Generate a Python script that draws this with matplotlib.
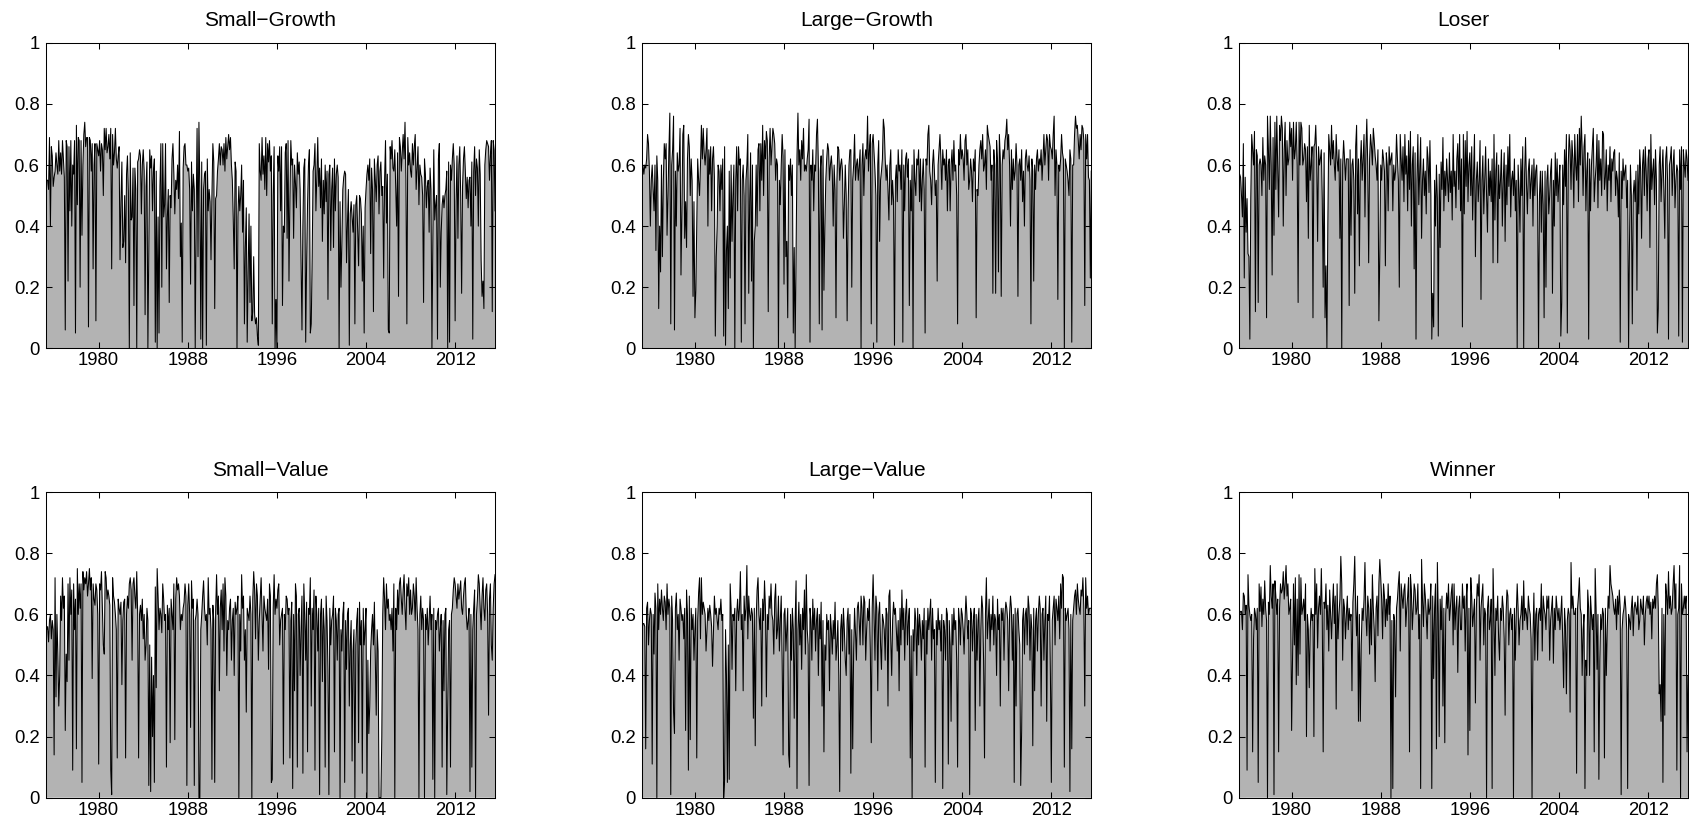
import numpy as np
import pandas as pd
import matplotlib
matplotlib.use('Agg')
import matplotlib.pyplot as plt

# panel titles, in drawing order (row by row)
titles = ['Small\u2212Growth', 'Large\u2212Growth', 'Loser',
          'Small\u2212Value', 'Large\u2212Value', 'Winner']
start_month = '1975-04'          # first monthly observation
year_ticks = [1980, 1988, 1996, 2004, 2012]
y_ticks = [0, 0.2, 0.4, 0.6, 0.8, 1]
y_tick_labels = ['0', '0.2', '0.4', '0.6', '0.8', '1']

# monthly values in percent (Apr 1975 .. Aug 2015), one line per year
small_growth = [
    57, 55, 55, 52, 69, 40, 66, 63, 53,
    56, 58, 64, 60, 57, 68, 58, 64, 57, 68, 62, 56,
    6, 68, 66, 22, 66, 45, 68, 40, 60, 57, 68, 5,
    73, 47, 69, 68, 20, 68, 37, 60, 70, 74, 66, 69,
    69, 7, 69, 68, 58, 67, 26, 60, 67, 9, 67, 65,
    63, 68, 58, 67, 65, 50, 72, 65, 72, 64, 66, 70,
    62, 72, 26, 70, 60, 64, 72, 62, 59, 63, 66, 29,
    48, 61, 33, 35, 50, 28, 57, 63, 51, 0, 64, 42,
    43, 59, 14, 59, 52, 0, 61, 62, 65, 63, 44, 60,
    65, 58, 11, 53, 61, 0, 31, 65, 59, 63, 45, 58,
    62, 2, 58, 0, 43, 5, 53, 67, 20, 67, 43, 47,
    67, 26, 43, 52, 15, 50, 46, 62, 67, 57, 44, 55,
    52, 60, 49, 71, 30, 41, 2, 59, 66, 67, 60, 60,
    58, 59, 52, 21, 61, 45, 57, 52, 0, 44, 72, 30,
    74, 52, 3, 61, 0, 52, 57, 58, 1, 62, 45, 52,
    48, 29, 50, 67, 61, 13, 49, 50, 58, 62, 67, 60,
    66, 65, 60, 67, 58, 69, 62, 66, 70, 65, 69, 60,
    55, 42, 26, 61, 58, 0, 43, 53, 45, 50, 60, 38,
    55, 8, 33, 46, 2, 25, 44, 15, 40, 9, 12, 30,
    11, 8, 10, 4, 1, 67, 58, 55, 69, 57, 63, 52,
    69, 50, 67, 61, 68, 58, 63, 8, 50, 66, 0, 16,
    0, 63, 58, 66, 45, 66, 14, 40, 38, 64, 67, 36,
    68, 22, 49, 68, 60, 62, 36, 60, 54, 46, 64, 57,
    61, 52, 29, 6, 40, 59, 62, 2, 28, 47, 60, 65,
    5, 8, 30, 58, 60, 67, 45, 56, 69, 53, 59, 46,
    62, 35, 55, 44, 60, 48, 58, 16, 57, 60, 32, 52,
    59, 33, 62, 45, 57, 60, 56, 0, 48, 20, 35, 52,
    56, 58, 57, 28, 41, 52, 1, 44, 48, 43, 38, 47,
    8, 47, 50, 38, 27, 50, 49, 44, 22, 40, 5, 46,
    52, 57, 60, 55, 62, 31, 59, 52, 12, 62, 55, 48,
    60, 63, 44, 58, 61, 50, 53, 23, 55, 68, 41, 57,
    6, 5, 66, 62, 68, 59, 58, 65, 52, 40, 64, 17,
    69, 66, 58, 64, 70, 62, 74, 55, 8, 69, 60, 64,
    58, 56, 67, 60, 66, 70, 52, 59, 66, 47, 60, 57,
    56, 50, 15, 62, 57, 46, 53, 55, 38, 59, 52, 0,
    36, 65, 42, 47, 50, 3, 62, 67, 20, 38, 47, 50,
    46, 50, 52, 58, 0, 61, 2, 60, 55, 62, 67, 60,
    9, 48, 63, 36, 60, 66, 50, 18, 53, 62, 66, 58,
    49, 56, 46, 55, 56, 40, 61, 3, 58, 66, 50, 62,
    59, 40, 65, 57, 29, 17, 22, 13, 60, 65, 68, 67,
    66, 55, 63, 68, 12, 68, 65, 45,
]

large_growth = [
    58, 60, 57, 60, 59, 62, 70, 67, 58,
    40, 55, 60, 52, 45, 60, 32, 63, 55, 13, 40, 25,
    60, 30, 55, 67, 62, 67, 37, 50, 65, 77, 8, 60,
    65, 76, 6, 58, 40, 64, 58, 60, 72, 24, 45, 70,
    73, 36, 48, 33, 62, 70, 66, 50, 62, 55, 17, 48,
    10, 19, 40, 62, 55, 50, 60, 73, 62, 72, 64, 60,
    65, 72, 40, 65, 57, 66, 45, 62, 66, 56, 4, 30,
    40, 60, 58, 45, 60, 52, 62, 4, 66, 1, 32, 40,
    13, 58, 23, 60, 35, 50, 60, 0, 55, 66, 45, 66,
    60, 62, 2, 55, 60, 50, 8, 55, 60, 70, 18, 48,
    64, 22, 60, 0, 35, 40, 60, 40, 65, 67, 45, 67,
    55, 73, 50, 68, 62, 71, 68, 12, 62, 72, 60, 66,
    72, 70, 67, 55, 62, 60, 0, 55, 47, 60, 70, 63,
    21, 65, 30, 35, 10, 60, 55, 62, 50, 60, 5, 33,
    0, 30, 63, 77, 60, 65, 55, 68, 62, 72, 58, 60,
    58, 62, 65, 75, 2, 60, 55, 65, 45, 60, 58, 70,
    75, 60, 8, 58, 63, 6, 65, 19, 40, 55, 62, 67,
    65, 55, 60, 63, 58, 40, 60, 52, 10, 55, 66, 65,
    55, 60, 62, 58, 36, 47, 60, 50, 9, 45, 60, 65,
    65, 20, 55, 60, 70, 55, 60, 62, 55, 60, 65, 0,
    60, 67, 50, 62, 65, 62, 76, 58, 65, 70, 8, 67,
    70, 64, 58, 50, 2, 60, 68, 35, 55, 58, 62, 75,
    72, 62, 55, 60, 52, 42, 60, 65, 47, 55, 48, 1,
    55, 60, 48, 65, 58, 60, 52, 65, 2, 60, 45, 62,
    64, 56, 62, 14, 55, 45, 60, 0, 65, 55, 50, 62,
    60, 65, 48, 62, 45, 55, 62, 52, 5, 62, 60, 70,
    73, 58, 55, 47, 60, 65, 58, 50, 55, 22, 60, 65,
    70, 62, 52, 65, 60, 62, 55, 65, 45, 60, 62, 45,
    60, 65, 55, 68, 58, 60, 50, 8, 65, 60, 70, 62,
    65, 62, 55, 68, 70, 60, 65, 52, 55, 62, 58, 48,
    62, 58, 65, 10, 52, 50, 60, 65, 68, 62, 70, 58,
    60, 65, 52, 73, 70, 68, 66, 55, 60, 18, 65, 60,
    18, 68, 62, 25, 70, 62, 17, 60, 65, 62, 68, 70,
    75, 65, 70, 60, 40, 65, 52, 62, 55, 58, 67, 60,
    17, 60, 62, 55, 65, 48, 58, 40, 62, 65, 60, 58,
    63, 55, 8, 62, 58, 22, 60, 52, 62, 65, 58, 62,
    60, 65, 55, 62, 70, 60, 65, 70, 68, 55, 70, 66,
    65, 62, 70, 76, 50, 65, 60, 16, 60, 58, 62, 70,
    64, 62, 0, 62, 60, 58, 55, 50, 65, 62, 2, 60,
    60, 70, 76, 72, 73, 68, 62, 70, 65, 73, 72, 68,
    14, 70, 62, 70, 56, 55, 23, 58,
]

loser = [
    57, 57, 56, 50, 43, 67, 23, 56, 38,
    49, 31, 30, 3, 49, 70, 65, 60, 71, 12, 65, 63,
    15, 60, 62, 60, 50, 69, 55, 63, 60, 10, 76, 65,
    52, 76, 60, 24, 69, 37, 74, 52, 76, 60, 43, 73,
    68, 76, 72, 40, 65, 74, 50, 68, 60, 62, 74, 66,
    72, 55, 74, 62, 65, 74, 60, 15, 74, 60, 74, 72,
    60, 62, 67, 65, 48, 66, 36, 73, 55, 60, 66, 10,
    66, 67, 73, 62, 35, 66, 60, 62, 65, 49, 20, 64,
    10, 27, 0, 40, 70, 65, 60, 73, 62, 68, 60, 55,
    70, 62, 58, 65, 36, 62, 0, 60, 68, 62, 55, 62,
    62, 62, 14, 65, 37, 60, 62, 55, 18, 66, 73, 44,
    62, 27, 60, 68, 55, 62, 70, 43, 65, 75, 60, 28,
    62, 70, 66, 60, 72, 68, 63, 60, 55, 65, 9, 31,
    60, 55, 65, 62, 58, 27, 64, 60, 45, 66, 60, 62,
    64, 45, 60, 55, 58, 70, 62, 55, 20, 70, 62, 55,
    66, 48, 70, 57, 63, 45, 68, 52, 71, 40, 60, 66,
    26, 64, 3, 55, 70, 47, 58, 69, 36, 55, 62, 50,
    58, 44, 66, 62, 51, 68, 50, 3, 18, 7, 55, 40,
    60, 49, 4, 57, 33, 61, 52, 69, 45, 58, 50, 62,
    55, 48, 64, 51, 58, 42, 70, 53, 58, 46, 62, 67,
    52, 70, 45, 62, 7, 70, 44, 68, 53, 71, 48, 60,
    64, 50, 66, 42, 57, 70, 30, 55, 61, 48, 55, 68,
    16, 55, 63, 44, 55, 66, 50, 38, 62, 50, 58, 48,
    62, 28, 70, 42, 58, 64, 28, 60, 49, 55, 65, 40,
    55, 64, 35, 60, 47, 66, 53, 70, 43, 55, 58, 50,
    62, 45, 55, 0, 60, 52, 38, 62, 50, 66, 0, 57,
    69, 54, 44, 58, 62, 49, 55, 60, 40, 62, 50, 58,
    60, 48, 0, 50, 58, 38, 58, 47, 10, 58, 20, 55,
    60, 44, 50, 58, 62, 18, 55, 40, 64, 50, 62, 48,
    55, 60, 4, 15, 60, 47, 65, 53, 70, 5, 60, 70,
    65, 52, 68, 62, 46, 70, 60, 55, 70, 48, 72, 60,
    76, 65, 50, 66, 70, 45, 58, 64, 3, 62, 45, 60,
    66, 72, 48, 55, 60, 70, 46, 68, 55, 62, 50, 71,
    70, 52, 56, 65, 45, 60, 55, 66, 48, 62, 58, 64,
    65, 50, 58, 55, 43, 64, 2, 58, 49, 62, 55, 58,
    60, 46, 55, 0, 35, 60, 50, 8, 50, 55, 48, 58,
    19, 60, 44, 65, 58, 36, 60, 65, 50, 66, 58, 45,
    62, 65, 33, 70, 52, 58, 62, 47, 65, 55, 5, 13,
    60, 66, 48, 58, 65, 52, 36, 62, 66, 55, 3, 60,
    62, 66, 50, 60, 65, 46, 55, 60, 58, 4, 65, 52,
    66, 2, 65, 60, 56, 65, 62, 55,
]

small_value = [
    57, 55, 56, 51, 58, 60, 52, 58, 55,
    14, 72, 33, 60, 47, 30, 40, 66, 58, 72, 62, 66,
    22, 47, 38, 70, 45, 72, 60, 68, 9, 70, 55, 65,
    16, 75, 60, 70, 62, 70, 5, 74, 68, 72, 70, 74,
    66, 70, 75, 68, 72, 39, 70, 65, 63, 70, 68, 60,
    11, 70, 68, 74, 62, 50, 47, 74, 72, 65, 68, 66,
    63, 9, 1, 72, 66, 64, 60, 55, 13, 65, 62, 60,
    64, 37, 58, 64, 65, 13, 60, 66, 62, 70, 72, 68,
    45, 70, 72, 66, 62, 74, 60, 13, 60, 63, 58, 65,
    52, 60, 45, 50, 62, 58, 4, 50, 2, 46, 20, 40,
    5, 69, 36, 75, 66, 55, 62, 60, 54, 70, 65, 58,
    60, 10, 63, 55, 62, 18, 65, 60, 55, 70, 19, 65,
    72, 68, 70, 66, 55, 60, 58, 62, 64, 70, 66, 4,
    63, 70, 60, 23, 71, 62, 65, 4, 58, 60, 65, 60,
    0, 0, 55, 60, 66, 71, 62, 58, 60, 50, 72, 60,
    62, 55, 6, 63, 58, 5, 61, 73, 60, 66, 35, 62,
    68, 55, 70, 48, 72, 66, 40, 58, 55, 62, 65, 45,
    58, 62, 40, 64, 60, 62, 66, 0, 60, 48, 73, 62,
    66, 45, 55, 28, 62, 60, 58, 66, 60, 0, 65, 74,
    68, 52, 70, 66, 45, 58, 65, 72, 60, 48, 66, 62,
    60, 58, 65, 42, 70, 66, 5, 6, 62, 73, 60, 65,
    62, 68, 70, 50, 58, 60, 62, 11, 60, 55, 66, 65,
    60, 62, 13, 58, 64, 3, 60, 35, 70, 66, 10, 60,
    62, 40, 55, 66, 8, 70, 60, 45, 64, 15, 62, 60,
    72, 30, 62, 55, 68, 9, 66, 60, 48, 62, 1, 60,
    65, 38, 62, 55, 10, 66, 58, 42, 1, 62, 50, 58,
    60, 66, 15, 62, 58, 45, 60, 62, 0, 55, 48, 60,
    64, 5, 58, 42, 60, 62, 30, 50, 58, 12, 48, 55,
    0, 50, 58, 62, 18, 64, 50, 58, 8, 62, 50, 55,
    62, 0, 45, 21, 30, 48, 55, 60, 50, 64, 45, 27,
    55, 48, 0, 0, 0, 20, 60, 72, 65, 55, 70, 62,
    65, 58, 60, 55, 62, 48, 70, 0, 62, 55, 68, 60,
    70, 72, 65, 60, 68, 73, 62, 55, 70, 66, 72, 60,
    68, 60, 62, 70, 66, 58, 72, 62, 55, 0, 60, 66,
    55, 62, 58, 0, 60, 55, 62, 50, 58, 66, 55, 60,
    6, 62, 0, 58, 55, 60, 62, 48, 55, 60, 10, 58,
    35, 60, 62, 1, 30, 55, 58, 10, 60, 62, 68, 72,
    70, 66, 62, 70, 65, 68, 71, 62, 60, 66, 70, 72,
    60, 55, 58, 62, 2, 60, 10, 55, 62, 68, 0, 60,
    65, 73, 70, 62, 55, 66, 72, 62, 58, 68, 70, 60,
    27, 65, 70, 50, 45, 62, 70, 73,
]

large_value = [
    55, 57, 57, 56, 16, 62, 64, 50, 58,
    62, 60, 11, 60, 47, 67, 62, 0, 70, 55, 65, 60,
    68, 62, 58, 66, 64, 55, 70, 60, 65, 62, 1, 66,
    58, 28, 21, 62, 67, 55, 60, 45, 65, 62, 58, 60,
    52, 62, 22, 68, 60, 9, 66, 19, 62, 55, 60, 45,
    55, 62, 13, 58, 67, 72, 52, 72, 60, 64, 62, 60,
    48, 55, 62, 58, 63, 60, 56, 43, 55, 66, 60, 62,
    58, 55, 62, 60, 65, 58, 60, 0, 6, 55, 40, 5,
    50, 6, 70, 62, 42, 60, 58, 62, 35, 60, 65, 58,
    62, 74, 55, 60, 35, 66, 58, 62, 76, 52, 66, 60,
    58, 62, 60, 26, 62, 17, 58, 68, 72, 60, 55, 62,
    30, 65, 58, 71, 62, 33, 60, 55, 66, 62, 70, 60,
    58, 47, 65, 70, 52, 55, 66, 48, 58, 66, 45, 14,
    60, 62, 48, 55, 62, 14, 10, 60, 45, 62, 55, 26,
    58, 71, 3, 55, 64, 50, 60, 42, 62, 55, 68, 47,
    73, 55, 50, 4, 62, 58, 45, 65, 55, 62, 48, 58,
    62, 40, 60, 52, 64, 30, 58, 15, 50, 45, 60, 55,
    58, 35, 60, 55, 47, 58, 52, 64, 45, 50, 58, 40,
    2, 55, 60, 48, 62, 55, 45, 40, 58, 62, 47, 60,
    8, 55, 16, 48, 62, 54, 45, 62, 64, 58, 50, 66,
    62, 50, 66, 64, 45, 55, 62, 58, 65, 48, 18, 62,
    73, 60, 45, 66, 62, 35, 60, 64, 50, 42, 60, 58,
    55, 45, 62, 60, 30, 66, 68, 52, 40, 58, 64, 60,
    62, 55, 48, 58, 35, 62, 50, 68, 55, 62, 45, 60,
    65, 50, 58, 62, 13, 53, 0, 55, 48, 62, 58, 40,
    62, 50, 60, 55, 45, 58, 52, 62, 10, 58, 47, 62,
    55, 60, 65, 45, 62, 52, 55, 5, 58, 50, 62, 55,
    58, 48, 60, 3, 58, 55, 45, 62, 60, 11, 58, 50,
    25, 60, 50, 62, 55, 58, 45, 10, 62, 58, 50, 62,
    60, 55, 47, 58, 66, 60, 52, 58, 1, 62, 60, 48,
    58, 62, 22, 60, 45, 58, 62, 30, 55, 66, 62, 45,
    13, 60, 72, 52, 58, 65, 48, 60, 55, 66, 50, 60,
    58, 40, 65, 55, 60, 30, 62, 58, 62, 45, 60, 64,
    62, 58, 35, 60, 66, 62, 45, 60, 5, 62, 30, 60,
    62, 55, 50, 4, 22, 58, 62, 47, 60, 62, 50, 66,
    62, 45, 60, 55, 17, 62, 35, 58, 62, 48, 60, 66,
    62, 30, 60, 62, 45, 58, 66, 25, 60, 58, 66, 40,
    5, 58, 62, 66, 50, 65, 62, 58, 66, 52, 70, 62,
    73, 72, 10, 62, 58, 60, 62, 55, 2, 60, 16, 58,
    62, 66, 68, 60, 70, 65, 62, 60, 68, 66, 72, 62,
    30, 72, 62, 66, 60, 62, 62, 62,
]

winner = [
    60, 60, 61, 61, 55, 67, 66, 60, 63,
    9, 73, 63, 60, 58, 60, 15, 52, 62, 60, 55, 62,
    5, 70, 61, 69, 56, 65, 60, 71, 62, 58, 0, 64,
    60, 76, 66, 62, 70, 1, 71, 66, 60, 65, 15, 62,
    70, 67, 68, 74, 65, 70, 76, 66, 70, 60, 62, 65,
    22, 46, 70, 50, 72, 37, 65, 40, 73, 47, 72, 60,
    62, 65, 58, 70, 20, 60, 55, 36, 55, 62, 58, 60,
    20, 75, 60, 70, 49, 62, 66, 60, 75, 60, 15, 64,
    62, 70, 55, 63, 48, 68, 60, 52, 62, 70, 57, 66,
    29, 70, 52, 60, 65, 79, 70, 45, 65, 62, 52, 60,
    66, 55, 62, 58, 60, 35, 64, 70, 79, 62, 53, 66,
    25, 60, 25, 50, 62, 58, 65, 77, 60, 53, 66, 62,
    47, 65, 50, 73, 62, 55, 38, 62, 66, 53, 70, 78,
    72, 65, 52, 70, 66, 56, 65, 58, 70, 60, 66, 0,
    58, 3, 60, 58, 33, 62, 65, 70, 74, 48, 70, 66,
    62, 68, 70, 56, 62, 66, 72, 15, 73, 68, 55, 62,
    70, 68, 60, 62, 70, 52, 60, 3, 78, 65, 56, 70,
    66, 60, 52, 65, 60, 62, 70, 3, 66, 39, 62, 70,
    16, 77, 60, 20, 65, 55, 66, 30, 62, 18, 60, 67,
    62, 70, 58, 62, 67, 70, 50, 70, 55, 62, 66, 41,
    62, 66, 55, 55, 70, 62, 66, 48, 65, 70, 14, 62,
    22, 72, 66, 56, 60, 65, 31, 62, 70, 66, 73, 45,
    62, 66, 70, 50, 62, 60, 0, 62, 66, 55, 58, 65,
    3, 75, 60, 40, 62, 58, 66, 52, 45, 62, 58, 66,
    62, 52, 27, 60, 68, 66, 50, 60, 62, 55, 60, 0,
    62, 45, 60, 70, 62, 50, 58, 60, 66, 55, 71, 58,
    62, 60, 55, 66, 62, 60, 52, 0, 53, 67, 45, 60,
    62, 45, 60, 62, 58, 70, 48, 66, 62, 60, 55, 66,
    62, 66, 45, 58, 62, 66, 44, 62, 55, 66, 62, 58,
    62, 55, 60, 66, 52, 36, 62, 56, 34, 58, 62, 60,
    28, 77, 62, 66, 60, 60, 62, 8, 62, 66, 72, 62,
    60, 40, 55, 60, 3, 45, 40, 68, 62, 40, 66, 60,
    55, 60, 15, 75, 62, 42, 60, 6, 45, 60, 55, 62,
    60, 13, 62, 40, 55, 66, 62, 76, 70, 68, 66, 62,
    60, 65, 55, 66, 60, 68, 62, 1, 55, 60, 62, 66,
    62, 55, 3, 60, 58, 55, 62, 66, 53, 62, 64, 62,
    60, 66, 55, 58, 65, 62, 60, 66, 50, 60, 64, 66,
    62, 66, 60, 64, 52, 65, 62, 66, 62, 70, 73, 62,
    34, 37, 25, 62, 5, 60, 27, 70, 66, 60, 74, 62,
    66, 60, 62, 70, 76, 62, 70, 9, 60, 62, 76, 0,
    70, 60, 62, 66, 62, 66, 15, 40,
]

all_series = [small_growth, large_growth, loser,
              small_value, large_value, winner]


def decimal_years(n):
    d = pd.date_range(start_month, periods=n, freq='MS')
    return np.asarray(d.year + (d.month - 1) / 12.0, dtype=float)


plt.rcParams['font.family'] = ['Liberation Sans', 'DejaVu Sans']
plt.rcParams['axes.linewidth'] = 0.75

fig = plt.figure(figsize=(16.89, 8.25), dpi=100)

lefts = [0.0271, 0.3801, 0.7334]
bottoms = [0.5778, 0.0331]
w, h = 0.2660, 0.3703

for i, (title, series) in enumerate(zip(titles, all_series)):
    ax = fig.add_axes([lefts[i % 3], bottoms[i // 3], w, h])
    y = np.array(series) / 100.0
    x = decimal_years(len(y))
    ax.fill_between(x, 0, y, facecolor='#b3b3b3', edgecolor='none')
    ax.plot(x, y, color='black', lw=0.75)
    ax.set_xlim(x[0], x[-1])
    ax.set_ylim(0, 1)
    ax.set_xticks(year_ticks)
    ax.set_xticklabels([str(t) for t in year_ticks])
    ax.set_yticks(y_ticks)
    ax.set_yticklabels(y_tick_labels)
    ax.tick_params(direction='in', top=True, right=True, length=4,
                   width=0.75, labelsize=13.3)
    ax.tick_params(axis='x', pad=3)
    ax.tick_params(axis='y', pad=4.5)
    ax.set_title(title, fontsize=15, pad=12)

fig.savefig('out.png', dpi=100)
